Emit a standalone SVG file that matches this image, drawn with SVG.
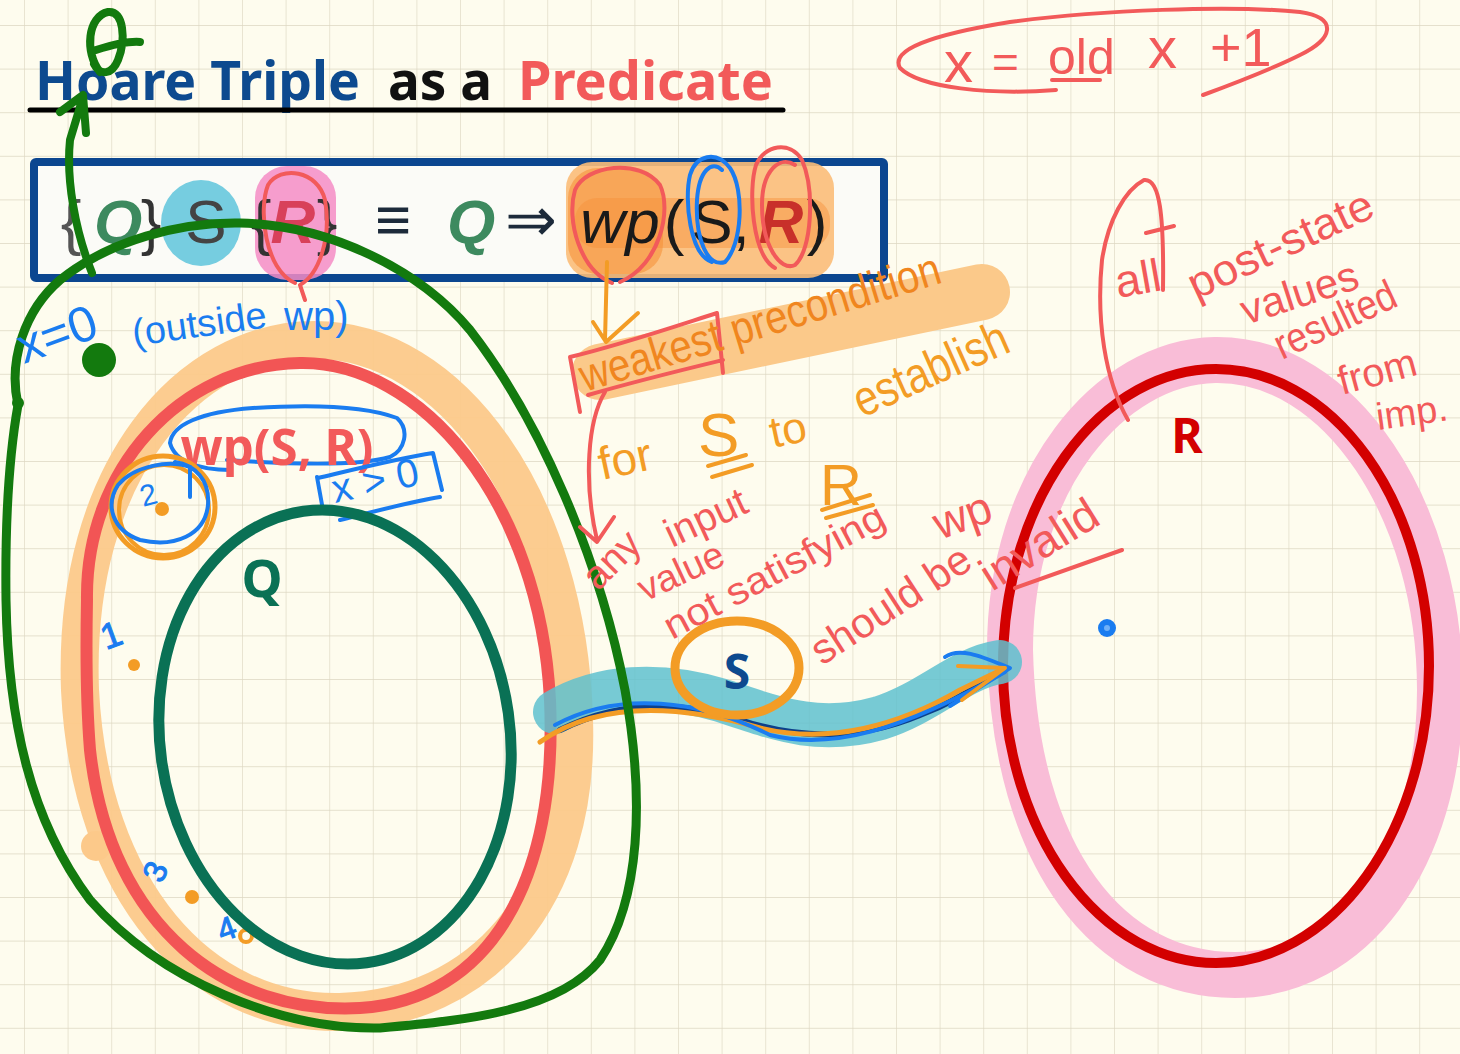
<svg xmlns="http://www.w3.org/2000/svg" width="1460" height="1054" viewBox="0 0 1460 1054">
<defs>
<pattern id="grid" width="43.6" height="43.6" patternUnits="userSpaceOnUse" x="24" y="25">
<path d="M0 0H43.6M0 0V43.6" stroke="#ddd7c2" stroke-width="1.3" fill="none"/>
</pattern>
<style>
.title{font-family:"Noto Sans","DejaVu Sans",sans-serif;font-weight:700;font-size:54px}
.m{font-family:"Liberation Sans",Arial,sans-serif;font-size:62px;text-anchor:middle}
.hw{font-family:"Liberation Sans Narrow","Liberation Sans",sans-serif;font-weight:400}
.lbl{font-family:"Noto Sans","DejaVu Sans",sans-serif;font-weight:700;text-anchor:middle}
.st{fill:none;stroke-linecap:round;stroke-linejoin:round}
</style>
</defs>
<rect width="1460" height="1054" fill="#fefcee"/>
<rect width="1460" height="1054" fill="url(#grid)"/>

<g id="title">
<text x="35" y="100" class="title" fill="#0d4a8f" textLength="325" lengthAdjust="spacingAndGlyphs">Hoare Triple</text>
<text x="388" y="100" class="title" fill="#111" textLength="104" lengthAdjust="spacingAndGlyphs">as a</text>
<text x="518" y="100" class="title" fill="#f25a5a" textLength="255" lengthAdjust="spacingAndGlyphs">Predicate</text>
<path d="M30 110H783" stroke="#000" stroke-width="5" stroke-linecap="round"/>
</g>

<g id="formula">
<rect x="34" y="162" width="850" height="116" fill="#fbfbf7" stroke="#0b4690" stroke-width="8" rx="2"/>
<ellipse cx="201" cy="223" rx="40" ry="43" fill="#76cde0"/>
<rect x="255" y="166" width="81" height="114" rx="32" fill="#f58cc6" opacity="0.85"/>
<rect x="566" y="162" width="268" height="116" rx="26" fill="#fbbd78" opacity="0.9"/>
<rect x="568" y="168" width="95" height="106" rx="30" fill="#f79a44" opacity="0.7"/>
<rect x="575" y="198" width="255" height="50" rx="22" fill="#f7903a" opacity="0.45"/>
<text class="m" x="71" y="243" fill="#555">{</text>
<text class="m" x="118" y="243" fill="#3d8a5f" font-weight="700" font-style="italic">Q</text>
<text class="m" x="151" y="243" fill="#333">}</text>
<text class="m" x="206" y="243" fill="#444" font-size="56">S</text>
<text class="m" x="261" y="243" fill="#333">{</text>
<text class="m" x="293" y="243" fill="#d8405a" font-weight="700" font-style="italic">R</text>
<text class="m" x="327" y="243" fill="#333">}</text>
<text class="m" x="393" y="241" fill="#1c2a3a">≡</text>
<text class="m" x="471" y="243" fill="#3d8a5f" font-weight="700" font-style="italic">Q</text>
<text class="m" x="531" y="241" fill="#1c2a3a">⇒</text>
<text class="m" x="620" y="243" fill="#1a1a1a" font-style="italic">wp</text>
<text class="m" x="674" y="243" fill="#1a1a1a">(</text>
<text class="m" x="712" y="243" fill="#1a1a1a">S</text>
<text class="m" x="741" y="243" fill="#1a1a1a">,</text>
<text class="m" x="781" y="243" fill="#c8302a" font-weight="700" font-style="italic">R</text>
<text class="m" x="817" y="243" fill="#1a1a1a">)</text>
<path class="st" stroke="#f25a5a" stroke-width="4" d="M612 283C580 270 566 220 575 190C585 165 640 158 660 185C672 210 660 265 620 282"/>
<path class="st" stroke="#f25a5a" stroke-width="4" d="M295 283C265 270 258 210 268 185C280 165 318 170 325 200C332 240 318 275 300 285L305 300"/>
<path class="st" stroke="#1a7cf0" stroke-width="4" d="M712 262C690 255 684 200 690 175C696 155 716 150 730 168C745 190 742 245 725 262C708 268 695 240 697 200C699 170 712 160 722 170"/>
<path class="st" stroke="#f25a5a" stroke-width="4" d="M775 268C752 255 748 190 756 165C764 145 790 140 802 160C815 190 812 250 795 265C780 272 762 245 762 205C762 170 780 155 795 165"/>
</g>

<g id="note-old">
<path class="st" stroke="#f25a5a" stroke-width="4" d="M1056 90C990 95 920 88 900 68C890 50 930 35 1010 22C1100 10 1230 5 1300 12C1340 18 1332 40 1300 55C1270 70 1230 85 1203 95"/>
<text class="hw" x="944" y="82" font-size="58" fill="#f25a5a">x</text>
<text class="hw" x="992" y="78" font-size="46" fill="#f25a5a">=</text>
<text class="hw" x="1048" y="74" font-size="50" fill="#f25a5a">old</text>
<path class="st" stroke="#f25a5a" stroke-width="4" d="M1052 80H1100"/>
<text class="hw" x="1148" y="68" font-size="58" fill="#f25a5a">x</text>
<text class="hw" x="1210" y="66" font-size="54" fill="#f25a5a">+1</text>
</g>

<g id="wp-region">
<path class="st" stroke="#fcc98a" stroke-width="38" opacity="0.95" d="M80 690C72 470 190 340 315 340C450 340 568 500 574 720C580 900 480 1008 340 1012C200 1015 90 890 80 690Z"/>
<circle cx="96" cy="846" r="15" fill="#fcc98a"/>
<path class="st" stroke="#f25555" stroke-width="12" d="M87 600C85 470 180 365 300 363C420 361 540 500 550 700C558 880 490 1000 360 1008C230 1015 110 930 90 750C86 700 86 650 87 600Z"/>
<path class="st" stroke="#1a7cf0" stroke-width="4" d="M230 470C200 470 175 462 170 443C172 425 200 412 253 408C300 405 360 404 397 418C410 430 405 450 390 457C360 466 300 465 227 460"/>
<text class="lbl" x="277" y="465" font-size="50" font-weight="500" fill="#f25a5a" textLength="193" lengthAdjust="spacingAndGlyphs">wp(S, R)</text>
<path class="st" stroke="#1a7cf0" stroke-width="4" d="M317 477L323 510M318 478C360 468 400 458 433 453L442 490M340 520C380 510 410 502 440 497"/>
<text class="hw" x="335" y="503" font-size="40" fill="#1a7cf0" transform="rotate(-12 335 503)">x &gt; 0</text>
<ellipse cx="163" cy="507" rx="52" ry="51" class="st" stroke="#f39c25" stroke-width="5"/>
<ellipse cx="164" cy="510" rx="45" ry="45" class="st" stroke="#f39c25" stroke-width="4"/>
<path class="st" stroke="#1a7cf0" stroke-width="4" d="M190 467C170 460 135 465 118 485C105 505 112 530 140 540C175 548 205 535 208 505C210 480 195 465 175 462"/>
<text class="hw" x="143" y="507" font-size="30" fill="#1a7cf0" transform="rotate(-15 143 507)">2</text>
<path class="st" stroke="#1a7cf0" stroke-width="4" d="M190 467L190 497"/>
<circle cx="162" cy="509" r="7" fill="#f39c25"/>
<text class="hw" x="106" y="650" font-size="36" fill="#1a7cf0" stroke="#1a7cf0" stroke-width="1" transform="rotate(-20 106 650)">1</text>
<circle cx="134" cy="665" r="6" fill="#f39c25"/>
<text class="hw" x="160" y="870" font-size="32" fill="#1a7cf0" stroke="#1a7cf0" stroke-width="1" transform="rotate(-65 172 876)">3</text>
<circle cx="192" cy="897" r="7" fill="#f39c25"/>
<text class="hw" x="222" y="942" font-size="32" fill="#1a7cf0" stroke="#1a7cf0" stroke-width="1" transform="rotate(-20 222 942)">4</text>
<circle cx="246" cy="936" r="6" fill="none" stroke="#f39c25" stroke-width="4"/>
</g>

<g id="Q">
<ellipse cx="335" cy="737" rx="175" ry="228" transform="rotate(-8 335 737)" class="st" stroke="#0a7155" stroke-width="11"/>
<text class="lbl" x="262" y="597" font-size="52" fill="#0a7155">Q</text>
</g>

<g id="R">
<path class="st" stroke="#f9bdd7" stroke-width="46" d="M1010 650C1010 480 1110 362 1215 360C1340 358 1440 510 1440 690C1440 860 1350 975 1235 975C1110 975 1015 860 1010 650Z"/>
<ellipse cx="1216" cy="666" rx="213" ry="297" class="st" stroke="#d30000" stroke-width="10"/>
<text class="lbl" x="1187" y="453" font-size="48" fill="#d30000">R</text>
<circle cx="1107" cy="628" r="9" fill="#1a7cf0"/>
<circle cx="1107" cy="628" r="3" fill="#6fb0f8"/>
</g>

<g id="connectors">
<path class="st" stroke="#5fc1cf" stroke-width="44" opacity="0.85" d="M555 712C600 685 660 682 720 700C780 720 820 735 880 718C930 702 960 668 1000 662"/>
<path class="st" stroke="#0d3f8a" stroke-width="6" d="M560 730C620 700 680 700 740 720C800 740 860 740 920 715C960 700 985 680 1005 670"/>
<path class="st" stroke="#f39c25" stroke-width="5" d="M540 742C600 700 680 705 760 728C830 745 900 725 960 690L1005 668"/>
<path class="st" stroke="#1a7cf0" stroke-width="4" d="M555 725C620 690 700 700 770 735C830 750 900 732 1005 672"/>
<path class="st" stroke="#1a7cf0" stroke-width="4" d="M945 657C960 646 985 658 1010 668L950 706"/>
<path class="st" stroke="#f39c25" stroke-width="4" d="M958 666L1005 668L962 700"/>
<ellipse cx="737" cy="668" rx="62" ry="47" class="st" stroke="#f39c25" stroke-width="9"/>
<text class="lbl" x="737" y="689" font-size="48" fill="#0d4a8f">S</text>
</g>

<g id="green-outside">
<path class="st" stroke="#137a0e" stroke-width="9" d="M18 405C8 360 25 310 60 280C110 240 180 222 240 223C330 225 420 270 470 330C540 420 600 560 625 690C645 800 640 900 600 960C560 1010 470 1020 380 1028C280 1030 160 980 90 900C30 820 8 720 6 600C5 520 10 450 18 405"/>
<path class="st" stroke="#137a0e" stroke-width="8" d="M92 273C75 230 66 180 70 140L83 97M60 112L83 95L86 133"/>
<path class="st" stroke="#137a0e" stroke-width="8" d="M100 72C84 52 88 16 108 12C124 10 126 40 118 60C112 75 100 76 94 64M96 50C112 45 128 41 140 42"/>
<circle cx="99" cy="360" r="17" fill="#137a0e"/>
<circle cx="18" cy="403" r="6" fill="#137a0e"/>
<text class="hw" x="24" y="364" font-size="50" fill="#1a7cf0" transform="rotate(-20 24 364)">x=0</text>
<text class="hw" x="134" y="346" font-size="38" fill="#1a7cf0" transform="rotate(-8 134 346)">(outside</text>
<text class="hw" x="284" y="330" font-size="40" fill="#1a7cf0">wp)</text>
</g>

<g id="notes">
<path class="st" stroke="#fbc98a" stroke-width="56" d="M600 372L982 292"/>
<path class="st" stroke="#f25a5a" stroke-width="4" d="M580 412L570 357C620 345 670 328 717 313L723 373M588 395C640 380 690 368 723 360"/>
<text class="hw" x="585" y="392" font-size="46" fill="#f0861f" transform="rotate(-17 585 392)" textLength="375" lengthAdjust="spacingAndGlyphs">weakest precondition</text>
<path class="st" stroke="#f39c25" stroke-width="4" d="M607 262L605 340M593 322L606 342L638 313"/>
<text class="hw" x="602" y="480" font-size="46" fill="#f39c25" transform="rotate(-12 602 480)">for</text>
<text class="hw" x="698" y="456" font-size="62" fill="#f39c25">S</text>
<path class="st" stroke="#f39c25" stroke-width="4" d="M708 466L746 455M712 477L752 465"/>
<text class="hw" x="773" y="448" font-size="44" fill="#f39c25" transform="rotate(-12 773 448)">to</text>
<text class="hw" x="862" y="418" font-size="50" fill="#f39c25" transform="rotate(-24 862 418)" textLength="165" lengthAdjust="spacingAndGlyphs">establish</text>
<text class="hw" x="820" y="505" font-size="58" fill="#f39c25">R</text>
<path class="st" stroke="#f39c25" stroke-width="4" d="M822 510L870 495M826 518L873 505"/>
<path class="st" stroke="#f25a5a" stroke-width="4" d="M605 392C588 420 583 480 597 540M580 527L597 542L614 517"/>
<text class="hw" x="598" y="592" font-size="40" fill="#f25a5a" transform="rotate(-45 598 592)">any</text>
<text class="hw" x="672" y="548" font-size="40" fill="#f25a5a" transform="rotate(-25 672 548)">input</text>
<text class="hw" x="645" y="602" font-size="38" fill="#f25a5a" transform="rotate(-25 645 602)">value</text>
<text class="hw" x="672" y="640" font-size="38" fill="#f25a5a" transform="rotate(-28 672 640)" textLength="245" lengthAdjust="spacingAndGlyphs">not satisfying</text>
<text class="hw" x="940" y="540" font-size="46" fill="#f25a5a" transform="rotate(-20 940 540)">wp</text>
<text class="hw" x="822" y="666" font-size="42" fill="#f25a5a" transform="rotate(-33 822 666)">should be</text>
<text class="hw" x="992" y="592" font-size="46" fill="#f25a5a" transform="rotate(-32 992 592)">invalid</text>
<path class="st" stroke="#f25a5a" stroke-width="4" d="M1015 588L1122 550"/>
<path class="st" stroke="#f25a5a" stroke-width="4" d="M1128 420C1105 380 1096 320 1102 260C1108 220 1125 190 1144 180C1160 178 1164 215 1163 290M1146 233L1174 226"/>
<text class="hw" x="1118" y="298" font-size="46" fill="#f25a5a" transform="rotate(-10 1118 298)">all</text>
<text class="hw" x="1196" y="300" font-size="44" fill="#f25a5a" transform="rotate(-25 1196 300)" textLength="200" lengthAdjust="spacingAndGlyphs">post-state</text>
<text class="hw" x="1246" y="325" font-size="42" fill="#f25a5a" transform="rotate(-18 1246 325)">values</text>
<text class="hw" x="1282" y="360" font-size="42" fill="#f25a5a" transform="rotate(-25 1282 360)" textLength="130" lengthAdjust="spacingAndGlyphs">resulted</text>
<text class="hw" x="1342" y="395" font-size="40" fill="#f25a5a" transform="rotate(-15 1342 395)">from</text>
<text class="hw" x="1378" y="430" font-size="38" fill="#f25a5a" transform="rotate(-8 1378 430)">imp.</text>
</g>
</svg>
